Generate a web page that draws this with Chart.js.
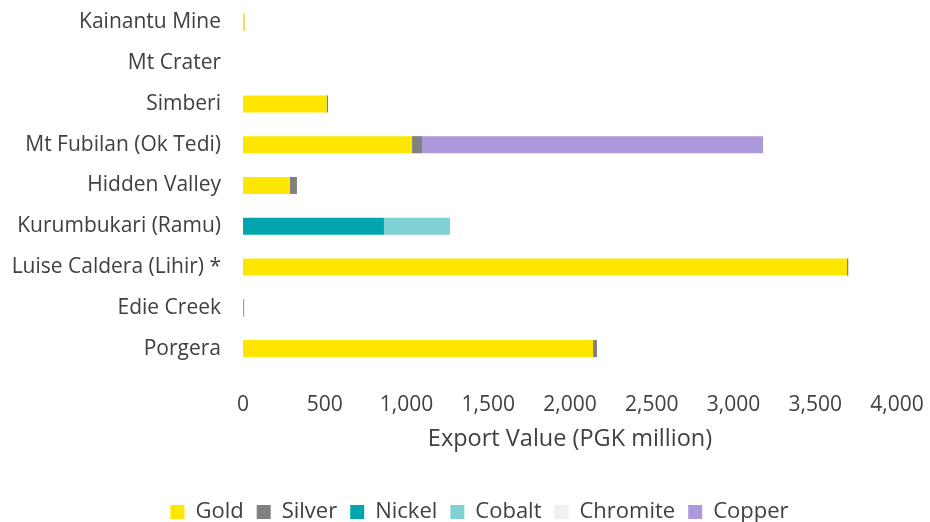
<!DOCTYPE html>
<html><head><meta charset="utf-8">
<script src="https://cdn.jsdelivr.net/npm/chart.js@4"></script>
<style>html,body{margin:0;padding:0;background:#fff}#wrap{width:930px;height:522px}</style>
</head><body><div id="wrap"><canvas id="c" width="930" height="522"></canvas></div>
<script>
const categories = ["Kainantu Mine","Mt Crater","Simberi","Mt Fubilan (Ok Tedi)","Hidden Valley","Kurumbukari (Ramu)","Luise Caldera (Lihir) *","Edie Creek","Porgera"];
const gold     = [10, 0, 512, 1034, 287, 0, 3694, 1, 2141];
const silver   = [0, 0, 8, 61, 43, 0, 8, 6, 24];
const nickel   = [0, 0, 0, 0, 0, 862, 0, 0, 0];
const cobalt   = [0, 0, 0, 0, 0, 404, 0, 0, 0];
const chromite = [0, 0, 0, 0, 0, 0, 0, 0, 0];
const copper   = [2, 0, 0, 2086, 0, 0, 0, 0, 0];
const xTicks = [0, 500, 1000, 1500, 2000, 2500, 3000, 3500, 4000];

const FONT = "'Open Sans', sans-serif";
const mk = (label, data, color) => ({label, data, backgroundColor: color, borderWidth: 0, categoryPercentage: 0.42, barPercentage: 1});
const shiftLegend = {
  id: 'shiftLegend',
  afterLayout(chart) { const dx = 31; chart.legend.left += dx; chart.legend.right += dx; }
};
new Chart(document.getElementById('c'), {
  type: 'bar',
  data: {
    labels: categories,
    datasets: [
      mk('Gold', gold, '#FFE600'),
      mk('Silver', silver, '#808080'),
      mk('Nickel', nickel, '#00A5AD'),
      mk('Cobalt', cobalt, '#80D1D5'),
      mk('Chromite', chromite, '#F0F0F0'),
      mk('Copper', copper, '#AC98DB')
    ]
  },
  plugins: [shiftLegend],
  options: {
    indexAxis: 'y',
    responsive: false,
    animation: false,
    layout: {padding: {left: 0, right: 33, top: 2, bottom: 0}},
    plugins: {
      tooltip: {enabled: false},
      legend: {
        position: 'bottom',
        maxHeight: 34,
        labels: {font: {family: FONT, size: 22}, color: '#404040', boxWidth: 14, boxHeight: 14, padding: 13}
      }
    },
    scales: {
      x: {
        stacked: true, min: 0, max: 4000,
        afterBuildTicks: s => { s.ticks = xTicks.map(v => ({value: v})); },
        grid: {display: false, drawTicks: false},
        border: {display: false},
        ticks: {font: {family: FONT, size: 21}, color: '#404040', padding: 23,
                callback: v => v.toLocaleString('en-US')},
        title: {display: true, text: 'Export Value (PGK million)', font: {family: FONT, size: 23.5}, color: '#404040', padding: {top: 6, bottom: 35}},
        afterFit: s => { s.height = 119; s.paddingLeft = 0; s.paddingRight = 0; }
      },
      y: {
        stacked: true,
        grid: {display: false, drawTicks: false},
        border: {display: false},
        ticks: {font: {family: FONT, size: 21}, color: '#404040', padding: 22},
        afterFit: s => { s.width = 243; s.paddingTop = 0; s.paddingBottom = 0; }
      }
    }
  }
});
</script></body></html>
